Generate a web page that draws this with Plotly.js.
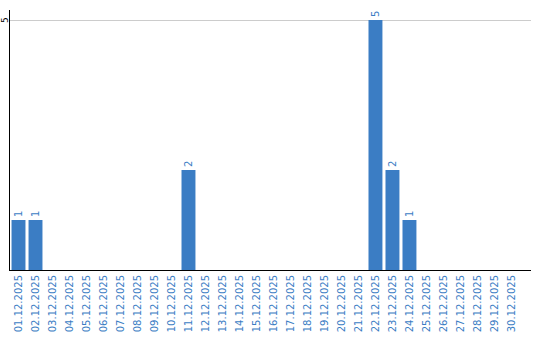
<!DOCTYPE html>
<html><head><meta charset="utf-8">
<script src="https://cdn.plot.ly/plotly-3.0.1.min.js"></script>
<style>body{margin:0;padding:0;background:#fff}#chart{width:540px;height:340px}</style>
</head><body><div id="chart"></div>
<script>
const categories = ["01.12.2025","02.12.2025","03.12.2025","04.12.2025","05.12.2025","06.12.2025","07.12.2025","08.12.2025","09.12.2025","10.12.2025","11.12.2025","12.12.2025","13.12.2025","14.12.2025","15.12.2025","16.12.2025","17.12.2025","18.12.2025","19.12.2025","20.12.2025","21.12.2025","22.12.2025","23.12.2025","24.12.2025","25.12.2025","26.12.2025","27.12.2025","28.12.2025","29.12.2025","30.12.2025"];
const values = [1,1,0,0,0,0,0,0,0,0,2,0,0,0,0,0,0,0,0,0,0,5,2,1,0,0,0,0,0,0];
const yTickVals = [5];
const yTickText = ["5"];
const barText = values.map(v => v > 0 ? String(v) : "");
const blue = "#3b7dc4";
Plotly.newPlot("chart", [{
  type: "bar", x: categories, y: values,
  text: barText, textposition: "outside", textangle: -90, cliponaxis: false,
  textfont: {family: "DejaVu Sans", size: 10, color: blue},
  marker: {color: blue}, hoverinfo: "none"
}], {
  width: 540, height: 340,
  margin: {l: 10, r: 9, t: 10, b: 70, pad: 0},
  paper_bgcolor: "#fff", plot_bgcolor: "#fff",
  bargap: 0.18, showlegend: false,
  font: {family: "DejaVu Sans", size: 10},
  xaxis: {type: "category", range: [-0.5, 30.15], tickangle: -90, automargin: false,
    tickfont: {family: "DejaVu Sans", size: 10, color: blue},
    showline: true, linecolor: "#000", linewidth: 1, showgrid: false, ticks: "", zeroline: false},
  yaxis: {range: [0, 5.2], tickvals: yTickVals, ticktext: yTickText, showticklabels: false, automargin: false,
    showline: true, linecolor: "#000", linewidth: 1, showgrid: true, gridcolor: "#cccccc",
    ticks: "", ticklen: 0, zeroline: false},
  annotations: yTickVals.map((v, i) => ({
    xref: "paper", yref: "y", x: 0, y: v, xanchor: "center", yanchor: "middle",
    xshift: -5, text: yTickText[i], textangle: -90, showarrow: false,
    font: {family: "DejaVu Sans", size: 9, color: "#000"}
  }))
}, {staticPlot: true, displayModeBar: false});
</script></body></html>
